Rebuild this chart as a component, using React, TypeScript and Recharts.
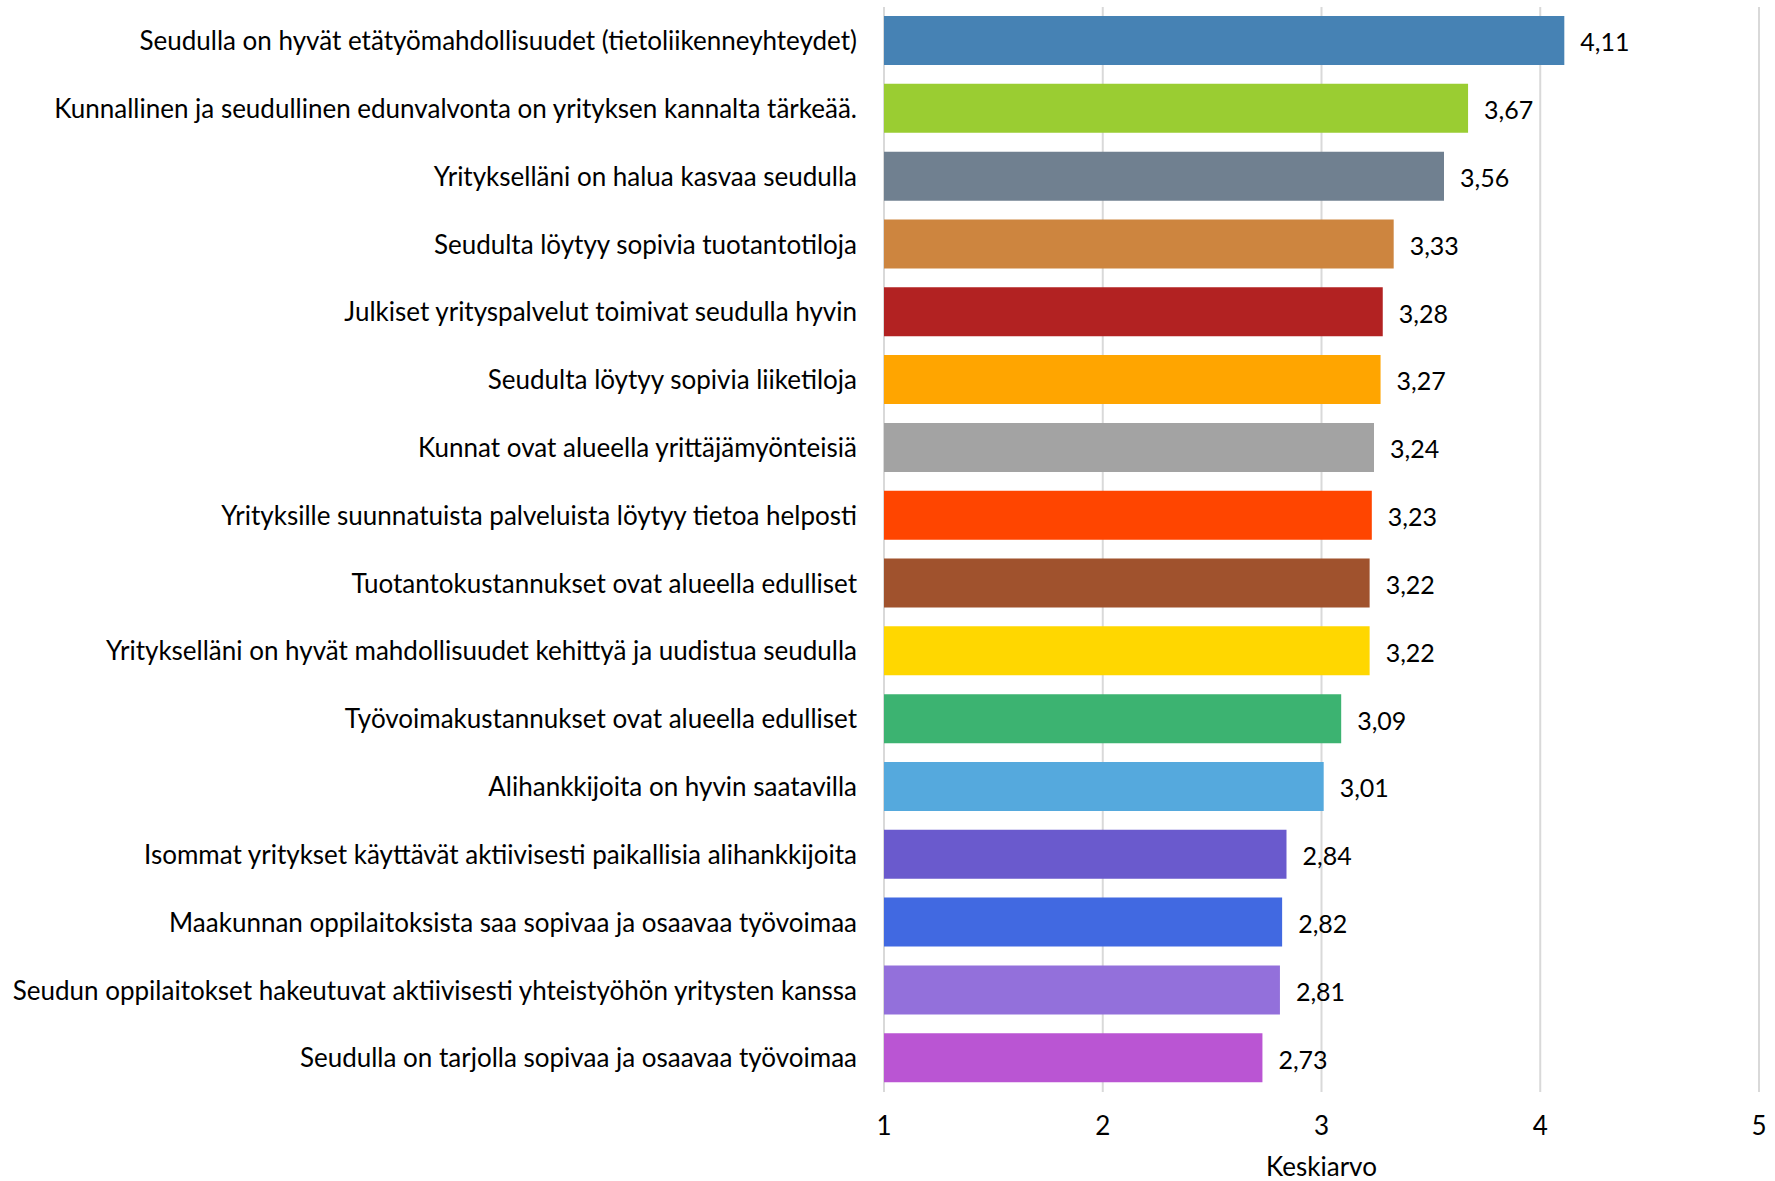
import React from 'react';
import { BarChart, Bar, XAxis, YAxis, CartesianGrid, Cell, LabelList, Label } from 'recharts';

const categories = [
  'Seudulla on hyvät etätyömahdollisuudet (tietoliikenneyhteydet)',
  'Kunnallinen ja seudullinen edunvalvonta on yrityksen kannalta tärkeää.',
  'Yritykselläni on halua kasvaa seudulla',
  'Seudulta löytyy sopivia tuotantotiloja',
  'Julkiset yrityspalvelut toimivat seudulla hyvin',
  'Seudulta löytyy sopivia liiketiloja',
  'Kunnat ovat alueella yrittäjämyönteisiä',
  'Yrityksille suunnatuista palveluista löytyy tietoa helposti',
  'Tuotantokustannukset ovat alueella edulliset',
  'Yritykselläni on hyvät mahdollisuudet kehittyä ja uudistua seudulla',
  'Työvoimakustannukset ovat alueella edulliset',
  'Alihankkijoita on hyvin saatavilla',
  'Isommat yritykset käyttävät aktiivisesti paikallisia alihankkijoita',
  'Maakunnan oppilaitoksista saa sopivaa ja osaavaa työvoimaa',
  'Seudun oppilaitokset hakeutuvat aktiivisesti yhteistyöhön yritysten kanssa',
  'Seudulla on tarjolla sopivaa ja osaavaa työvoimaa',
];

const values = [4.11, 3.67, 3.56, 3.33, 3.28, 3.27, 3.24, 3.23, 3.22, 3.22, 3.09, 3.01, 2.84, 2.82, 2.81, 2.73];

const colors = [
  '#4682B4', '#9ACD32', '#708090', '#CD853F', '#B22222', '#FFA500', '#A3A3A3', '#FF4500',
  '#A0522D', '#FFD700', '#3CB371', '#55A9DD', '#6A5ACD', '#4169E1', '#9370DB', '#BA55D3',
];

const xTicks = [1, 2, 3, 4, 5];
const axisTitle = 'Keskiarvo';

const data = categories.map((name, i) => ({ name, value: values[i] }));

const FONT = 'Lato, "Open Sans", sans-serif';
const FS = 26;

export default function App() {
  return (
    <div style={{ position: 'absolute', left: 0, top: 0, background: '#fff' }}>
      <BarChart
        width={1775}
        height={1181}
        data={data}
        layout="vertical"
        margin={{ top: 7, right: 16, bottom: 0, left: 0 }}
        barSize={49}
      >
        <CartesianGrid horizontal={false} vertical={true} stroke="#d9d9d9" strokeWidth={2} />
        <XAxis
          type="number"
          domain={[1, 5]}
          ticks={xTicks}
          axisLine={false}
          tickLine={false}
          tickSize={0}
          tickMargin={25}
          height={89}
          tick={{ fontFamily: FONT, fontSize: FS, fill: '#000' }}
          allowDataOverflow
        >
          <Label
            value={axisTitle}
            position="insideBottom"
            offset={5}
            style={{ fontFamily: FONT, fontSize: FS, fill: '#000' }}
          />
        </XAxis>
        <YAxis
          type="category"
          dataKey="name"
          width={884}
          axisLine={false}
          tickLine={false}
          tickSize={0}
          tickMargin={27}
          interval={0}
          tick={{ fontFamily: FONT, fontSize: FS, fill: '#000' }}
        />
        <Bar dataKey="value" isAnimationActive={false}>
          {data.map((d, i) => (
            <Cell key={d.name} fill={colors[i]} />
          ))}
          <LabelList
            dataKey="value"
            position="right"
            offset={16}
            dy={2}
            formatter={(v: any) => Number(v).toFixed(2).replace('.', ',')}
            style={{ fontFamily: FONT, fontSize: 25, fill: '#000' }}
          />
        </Bar>
      </BarChart>
    </div>
  );
}
